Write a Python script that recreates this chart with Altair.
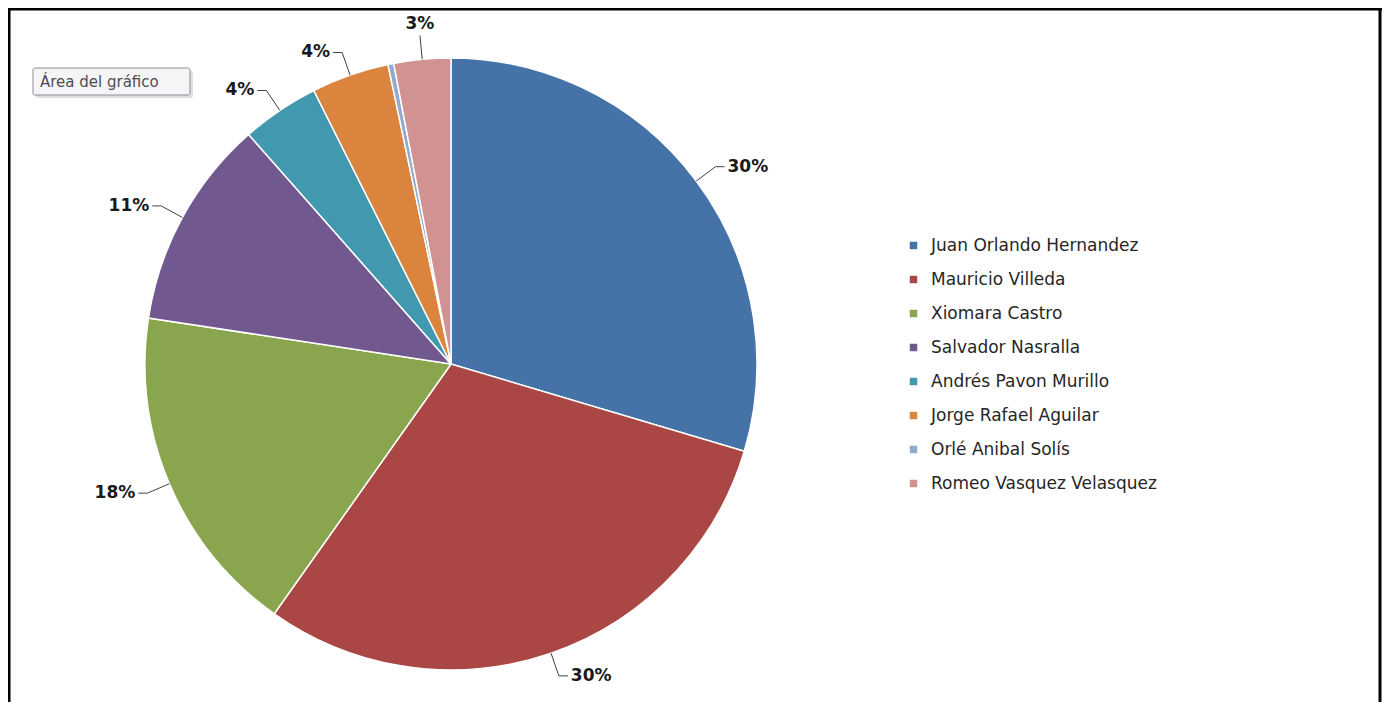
import altair as alt
import pandas as pd

# ---- data ----
names = ["Juan Orlando Hernandez", "Mauricio Villeda", "Xiomara Castro",
         "Salvador Nasralla", "Andrés Pavon Murillo", "Jorge Rafael Aguilar",
         "Orlé Anibal Solís", "Romeo Vasquez Velasquez"]
shares = [29.6, 30.2, 17.6, 11.1, 4.1, 4.1, 0.3, 3.0]
colors = ["#4572A7", "#AA4643", "#89A54E", "#71588F", "#4198AF", "#DB843D",
          "#93A9CF", "#D19392"]

df = pd.DataFrame({"idx": list(range(len(names))), "name": names, "share": shares})

# ---- layout ----
W, H = 1366, 686
CX, CY, R, L = 439, 352, 306, 24
FONT = "DejaVu Sans"

xs = alt.Scale(domain=[0, W], range=[0, W])
ys = alt.Scale(domain=[H, 0])

pie = alt.Chart(df).mark_arc(radius=R, stroke="white", strokeWidth=1.5).encode(
    theta=alt.Theta("share:Q", stack=True),
    color=alt.Color(
        "name:N",
        scale=alt.Scale(domain=names, range=colors),
        sort=names,
        legend=alt.Legend(
            title=None, orient="none", legendX=893, legendY=225,
            symbolType="square", symbolSize=56, symbolStrokeWidth=0,
            labelFont=FONT, labelFontSize=17, labelColor="#262626",
            rowPadding=16, labelOffset=9, padding=0, labelLimit=400,
        ),
    ),
    order=alt.Order("idx:Q"),
    x=alt.value(CX),
    y=alt.value(CY),
)

lab = (
    alt.Chart(df)
    .transform_window(cum="sum(share)", sort=[alt.SortField("idx")], frame=[None, 0])
    .transform_joinaggregate(total="sum(share)")
    .transform_calculate(mid="2*PI*(datum.cum - datum.share/2)/datum.total")
    .transform_calculate(
        ax=f"{CX} + {R}*sin(datum.mid)",
        ay=f"{CY} - {R}*cos(datum.mid)",
        bx=f"{CX} + {R + L}*sin(datum.mid)",
        by=f"{CY} - {R + L}*cos(datum.mid)",
        side="sin(datum.mid) > 0.2 ? 1 : (sin(datum.mid) < -0.2 ? -1 : 0)",
        lbl="round(100*datum.share/datum.total) + '%'",
    )
    .transform_calculate(tx="datum.bx + 9*datum.side")
    .transform_filter("datum.share >= 1")
)

lead1 = lab.mark_rule(color="#404040", strokeWidth=1).encode(
    x=alt.X("ax:Q", scale=xs, axis=None), y=alt.Y("ay:Q", scale=ys, axis=None),
    x2="bx:Q", y2="by:Q",
)
lead2 = lab.mark_rule(color="#404040", strokeWidth=1).encode(
    x=alt.X("bx:Q", scale=xs, axis=None), y=alt.Y("by:Q", scale=ys, axis=None),
    x2="tx:Q",
)
tstyle = dict(font=FONT, fontSize=17, fontWeight="bold", color="#1a1a1a")
t_right = lab.transform_filter("datum.side == 1").mark_text(
    align="left", baseline="middle", dx=3, **tstyle
).encode(x=alt.X("tx:Q", scale=xs, axis=None), y=alt.Y("by:Q", scale=ys, axis=None), text="lbl:N")
t_left = lab.transform_filter("datum.side == -1").mark_text(
    align="right", baseline="middle", dx=-3, **tstyle
).encode(x=alt.X("tx:Q", scale=xs, axis=None), y=alt.Y("by:Q", scale=ys, axis=None), text="lbl:N")
t_top = lab.transform_filter("datum.side == 0").mark_text(
    align="center", baseline="bottom", dy=-2, **tstyle
).encode(x=alt.X("tx:Q", scale=xs, axis=None), y=alt.Y("by:Q", scale=ys, axis=None), text="lbl:N")

# Excel tooltip seen in the screenshot
tip = alt.Chart(pd.DataFrame({"t": ["Área del gráfico"]}))
tip_shadow = tip.mark_rect(fill="#000000", opacity=0.12, cornerRadius=2).encode(
    x=alt.value(24), x2=alt.value(181), y=alt.value(59), y2=alt.value(86))
tip_box = tip.mark_rect(fill="#f5f5f7", stroke="#8c8c96", strokeWidth=1, cornerRadius=2).encode(
    x=alt.value(21), x2=alt.value(178), y=alt.value(56), y2=alt.value(83))
tip_text = tip.mark_text(align="left", baseline="middle", font=FONT, fontSize=15,
                         color="#4d4d4d").encode(x=alt.value(28), y=alt.value(70), text="t:N")

# frame (left, top, right edges)
frame = tip.mark_rule(color="black", strokeWidth=3)
f_left = frame.encode(x=alt.value(-3), y=alt.value(-3), y2=alt.value(H + 4))
f_top = frame.encode(x=alt.value(-4), x2=alt.value(W + 4), y=alt.value(-3))
f_right = frame.encode(x=alt.value(W + 2), y=alt.value(-3), y2=alt.value(H + 4))

chart = (
    alt.layer(pie, lead1, lead2, t_right, t_left, t_top,
              tip_shadow, tip_box, tip_text, f_left, f_top, f_right)
    .properties(width=W, height=H,
                padding={"left": 4, "top": 4, "right": 4, "bottom": 4},
                autosize=alt.AutoSizeParams(type="none"))
    .configure_view(stroke=None)
)

chart.save("out.html", embed_options={"renderer": "svg", "actions": False})
